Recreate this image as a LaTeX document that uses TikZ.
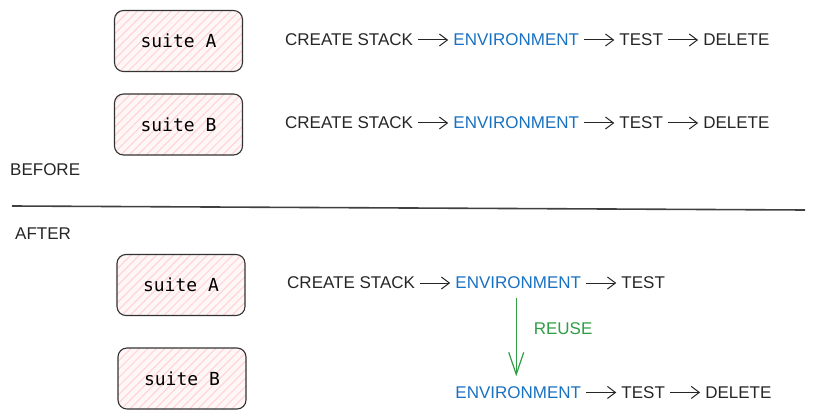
\documentclass[tikz,border=0pt]{standalone}
\usepackage{fontspec}
\setmainfont{Liberation Sans}
\setmonofont{DejaVu Sans Mono}
\usetikzlibrary{positioning,arrows.meta,patterns.meta}
\definecolor{envblue}{HTML}{1971C2}
\definecolor{reusegreen}{HTML}{2F9E44}
\definecolor{hatchred}{HTML}{FFD6D6}
\tikzset{
  suitebox/.style={draw=black!80, line width=1.1pt, rounded corners=9pt,
    minimum width=128pt, minimum height=61pt, preaction={fill=red!3},
    pattern={Lines[angle=45,distance=6pt,line width=1.2pt]}, pattern color=hatchred,
    font=\ttfamily\fontsize{18}{18}\selectfont},
  stage/.style={inner sep=5pt, font=\fontsize{17}{17}\selectfont, text=black!85},
  envstage/.style={stage, text=envblue},
  arr/.style={-{Straight Barb[length=8pt,width=12pt]}, line width=1pt, black!85},
}
\begin{document}
\begin{tikzpicture}[x=1pt,y=-1pt, node distance=30pt]
\useasboundingbox (0,0) rectangle (815,420);
% before
\node[suitebox] (sA1) at (178.5,41) {suite A};
\node[suitebox] (sB1) at (178.5,124.5) {suite B};
\node[stage, anchor=west] (cs1) at (280,40) {CREATE STACK};
\node[envstage, right=of cs1] (env1) {ENVIRONMENT};
\node[stage, right=of env1] (test1) {TEST};
\node[stage, right=of test1] (del1) {DELETE};
\draw[arr] (cs1) -- (env1);
\draw[arr] (env1) -- (test1);
\draw[arr] (test1) -- (del1);
\node[stage, anchor=west] (cs2) at (280,123) {CREATE STACK};
\node[envstage, right=of cs2] (env2) {ENVIRONMENT};
\node[stage, right=of env2] (test2) {TEST};
\node[stage, right=of test2] (del2) {DELETE};
\draw[arr] (cs2) -- (env2);
\draw[arr] (env2) -- (test2);
\draw[arr] (test2) -- (del2);
\node[stage, anchor=west] (before) at (5,170) {BEFORE};
% divider
\coordinate (divL) at (12,206);
\coordinate (divR) at (805,210);
\draw[line width=1.6pt, black!75] (divL) -- (divR);
\node[stage, anchor=west] (after) at (10,234) {AFTER};
% after
\node[suitebox] (sA2) at (181,285) {suite A};
\node[suitebox] (sB2) at (182,378.5) {suite B};
\node[stage, anchor=west] (cs3) at (282,283) {CREATE STACK};
\node[envstage, right=of cs3] (env3) {ENVIRONMENT};
\node[stage, right=of env3] (test3) {TEST};
\draw[arr] (cs3) -- (env3);
\draw[arr] (env3) -- (test3);
\node[envstage, below=87pt of env3] (env4) {ENVIRONMENT};
\node[stage, right=of env4] (test4) {TEST};
\node[stage, right=of test4] (del4) {DELETE};
\draw[arr] (env4) -- (test4);
\draw[arr] (test4) -- (del4);
\draw[reusegreen, line width=1.2pt, -{Straight Barb[length=22pt,width=15pt]}, shorten <=4pt, shorten >=5pt]
  ([xshift=-2pt]env3.south) -- node[pos=0.4, right=12pt, stage, text=reusegreen] (reuse) {REUSE} ([xshift=-2pt]env4.north);
\end{tikzpicture}
\end{document}
